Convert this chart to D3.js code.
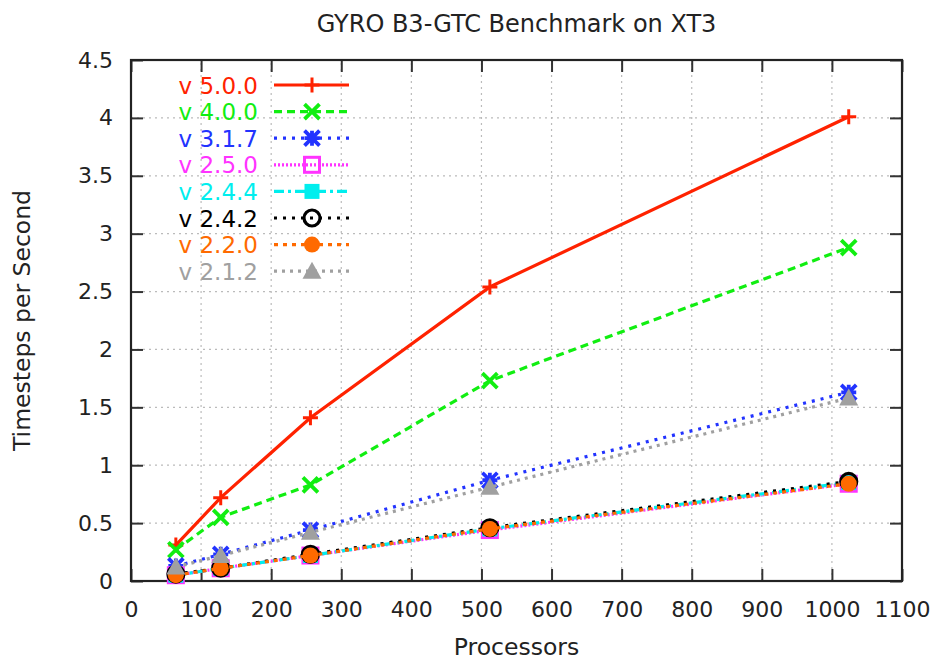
<!DOCTYPE html>
<html>
<head>
<meta charset="utf-8">
<script src="https://cdn.jsdelivr.net/npm/d3@7"></script>
<style>
  body { margin: 0; background: #fff; }
  text { font-family: "DejaVu Sans", "Liberation Sans", Arial, sans-serif; }
</style>
</head>
<body>
<script>
// Data
const processors = [64, 128, 256, 512, 1024];
const versions = ["v 5.0.0", "v 4.0.0", "v 3.1.7", "v 2.5.0", "v 2.4.4", "v 2.4.2", "v 2.2.0", "v 2.1.2"];
const v500 = [0.31, 0.72, 1.41, 2.54, 4.01];
const v400 = [0.27, 0.55, 0.83, 1.73, 2.88];
const v317 = [0.13, 0.23, 0.44, 0.87, 1.63];
const v250 = [0.05, 0.11, 0.22, 0.44, 0.84];
const v244 = [0.05, 0.11, 0.22, 0.45, 0.85];
const v242 = [0.06, 0.11, 0.23, 0.46, 0.86];
const v220 = [0.05, 0.11, 0.22, 0.45, 0.84];
const v212 = [0.12, 0.22, 0.42, 0.81, 1.58];
const xTicks = d3.range(0, 1101, 100);
const yTicks = d3.range(0, 4.51, 0.5);

const width = 939, height = 663;
const margin = {top: 60, right: 37, bottom: 82, left: 131};

const svg = d3.select("body").append("svg")
    .attr("width", width)
    .attr("height", height);

const x = d3.scaleLinear().domain([0, 1100]).range([margin.left, width - margin.right]);
const y = d3.scaleLinear().domain([0, 4.5]).range([height - margin.bottom, margin.top]);

// styles per series
const styles = [
  {color: "#ff2200", dash: null, marker: "plus"},
  {color: "#11ee11", dash: "8,5", marker: "cross"},
  {color: "#2233ff", dash: "3,6", marker: "star"},
  {color: "#ff33ff", dash: "2,2", marker: "square"},
  {color: "#00eeee", dash: "10,4,3,4", marker: "fsquare"},
  {color: "#000000", dash: "3,6", marker: "circle"},
  {color: "#ff6a00", dash: "4,5", marker: "fcircle"},
  {color: "#a0a0a0", dash: "3,5", marker: "triangle"}
];
const series = [v500, v400, v317, v250, v244, v242, v220, v212];

// grid
const grid = svg.append("g").attr("stroke", "#bbbbbb").attr("stroke-width", 1.2).attr("stroke-dasharray", "2,4");
grid.selectAll(".gx").data(xTicks.slice(1, -1)).join("line")
    .attr("x1", d => x(d)).attr("x2", d => x(d))
    .attr("y1", y(0)).attr("y2", y(4.5));
grid.selectAll(".gy").data(yTicks.slice(1, -1)).join("line")
    .attr("x1", x(0)).attr("x2", x(1100))
    .attr("y1", d => y(d)).attr("y2", d => y(d));

// axes with inward ticks, mirrored
const tickLen = 12;
const axisFont = "22px";
const xAxis = svg.append("g").attr("transform", `translate(0,${y(0)})`)
    .call(d3.axisBottom(x).tickValues(xTicks).tickSize(-tickLen).tickPadding(20).tickFormat(d3.format("d")));
const xAxisTop = svg.append("g").attr("transform", `translate(0,${y(4.5)})`)
    .call(d3.axisTop(x).tickValues(xTicks).tickSize(-tickLen).tickFormat(""));
const yAxis = svg.append("g").attr("transform", `translate(${x(0)},0)`)
    .call(d3.axisLeft(y).tickValues(yTicks).tickSize(-tickLen).tickPadding(18).tickFormat(d => d3.format("")(d)));
const yAxisRight = svg.append("g").attr("transform", `translate(${x(1100)},0)`)
    .call(d3.axisRight(y).tickValues(yTicks).tickSize(-tickLen).tickFormat(""));

[xAxis, xAxisTop, yAxis, yAxisRight].forEach(g => {
  g.select(".domain").remove();
  g.attr("font-family", null);
  g.selectAll(".tick line").attr("stroke", "#333").attr("stroke-width", 2);
  g.selectAll("text").attr("fill", "#222").style("font-size", axisFont);
});

// frame
svg.append("rect")
    .attr("x", x(0)).attr("y", y(4.5))
    .attr("width", x(1100) - x(0)).attr("height", y(0) - y(4.5))
    .attr("fill", "none").attr("stroke", "#222").attr("stroke-width", 2.2);

// titles
svg.append("text").attr("x", (x(0) + x(1100)) / 2).attr("y", 32)
    .attr("text-anchor", "middle").style("font-size", "24px").attr("fill", "#222")
    .text("GYRO B3-GTC Benchmark on XT3");
svg.append("text").attr("x", (x(0) + x(1100)) / 2).attr("y", 655)
    .attr("text-anchor", "middle").style("font-size", "23.5px").attr("fill", "#222")
    .text("Processors");
svg.append("text").attr("transform", `translate(30,${(y(0) + y(4.5)) / 2}) rotate(-90)`)
    .attr("text-anchor", "middle").style("font-size", "23.5px").attr("fill", "#222")
    .text("Timesteps per Second");

function drawMarker(g, type, cx, cy, color) {
  const s = 7.5;
  if (type === "plus") {
    g.append("path").attr("d", `M${cx - s},${cy}H${cx + s}M${cx},${cy - s}V${cy + s}`)
      .attr("stroke", color).attr("stroke-width", 3).attr("fill", "none");
  } else if (type === "cross") {
    g.append("path").attr("d", `M${cx - s},${cy - s}L${cx + s},${cy + s}M${cx - s},${cy + s}L${cx + s},${cy - s}`)
      .attr("stroke", color).attr("stroke-width", 3.8).attr("fill", "none");
  } else if (type === "star") {
    g.append("path").attr("d", `M${cx - s},${cy}H${cx + s}M${cx},${cy - s}V${cy + s}M${cx - s},${cy - s}L${cx + s},${cy + s}M${cx - s},${cy + s}L${cx + s},${cy - s}`)
      .attr("stroke", color).attr("stroke-width", 3.8).attr("fill", "none");
  } else if (type === "square") {
    g.append("rect").attr("x", cx - s).attr("y", cy - s).attr("width", 2 * s).attr("height", 2 * s)
      .attr("fill", "none").attr("stroke", color).attr("stroke-width", 3);
  } else if (type === "fsquare") {
    g.append("rect").attr("x", cx - s).attr("y", cy - s).attr("width", 2 * s).attr("height", 2 * s)
      .attr("fill", color);
  } else if (type === "circle") {
    g.append("circle").attr("cx", cx).attr("cy", cy).attr("r", s + 0.5)
      .attr("fill", "none").attr("stroke", color).attr("stroke-width", 3.2);
  } else if (type === "fcircle") {
    g.append("circle").attr("cx", cx).attr("cy", cy).attr("r", s + 0.5).attr("fill", color);
  } else if (type === "triangle") {
    g.append("path").attr("d", `M${cx},${cy - s - 2}L${cx + s + 2},${cy + s}L${cx - s - 2},${cy + s}Z`).attr("fill", color);
  }
}

const line = d3.line().x((d, i) => x(processors[i])).y(d => y(d));

series.forEach((vals, k) => {
  const st = styles[k];
  const g = svg.append("g");
  g.append("path").attr("d", line(vals))
    .attr("fill", "none").attr("stroke", st.color).attr("stroke-width", 3.2)
    .attr("stroke-dasharray", st.dash);
  vals.forEach((v, i) => drawMarker(g, st.marker, x(processors[i]), y(v), st.color));
});

// legend
const legend = svg.append("g");
versions.forEach((name, k) => {
  const st = styles[k];
  const ly = 85 + k * 26.6;
  legend.append("text").attr("x", 258).attr("y", ly + 8.5)
    .attr("text-anchor", "end").style("font-size", "23px").attr("fill", st.color).text(name);
  legend.append("line").attr("x1", 274).attr("x2", 349).attr("y1", ly).attr("y2", ly)
    .attr("stroke", st.color).attr("stroke-width", 3.2).attr("stroke-dasharray", st.dash);
  drawMarker(legend, st.marker, 312, ly, st.color);
});
</script>
</body>
</html>
